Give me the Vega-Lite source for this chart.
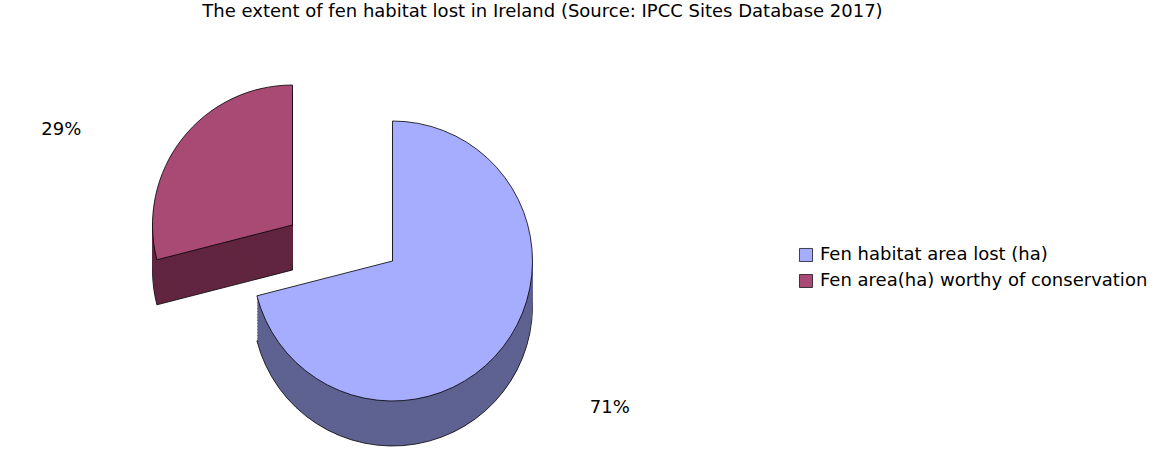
{
  "$schema": "https://vega.github.io/schema/vega-lite/v6.json",
  "autosize": {"type": "fit", "contains": "padding"},
  "width": 1155,
  "height": 457,
  "padding": {"top": 3, "left": 0, "right": 0, "bottom": 0},
  "background": "white",
  "config": {"view": {"stroke": null}, "font": "DejaVu Sans"},
  "title": {
    "text": "The extent of fen habitat lost in Ireland (Source: IPCC Sites Database 2017)",
    "font": "DejaVu Sans",
    "fontSize": 18,
    "fontWeight": "normal",
    "color": "black",
    "anchor": "middle",
    "dx": -35,
    "offset": 8
  },
  "data": {
    "values": [
      {"cat": "Fen habitat area lost (ha)", "share": 0.71, "rank": 1},
      {"cat": "Fen area(ha) worthy of conservation", "share": 0.29, "rank": 2}
    ]
  },
  "encoding": {
    "theta": {"field": "share", "type": "quantitative", "stack": true},
    "order": {"field": "rank", "type": "quantitative"}
  },
  "layer": [
    {"mark": {"type": "arc", "radius": 140, "xOffset": -285, "yOffset": 27, "fill": "#612540", "stroke": "black", "strokeWidth": 0.8}, "encoding": {"opacity": {"condition": {"test": "datum.rank == 2", "value": 1}, "value": 0}}},
    {"mark": {"type": "arc", "radius": 140, "xOffset": -285, "yOffset": 24, "fill": "#612540"}, "encoding": {"opacity": {"condition": {"test": "datum.rank == 2", "value": 1}, "value": 0}}},
    {"mark": {"type": "arc", "radius": 140, "xOffset": -285, "yOffset": 21, "fill": "#612540"}, "encoding": {"opacity": {"condition": {"test": "datum.rank == 2", "value": 1}, "value": 0}}},
    {"mark": {"type": "arc", "radius": 140, "xOffset": -285, "yOffset": 18, "fill": "#612540"}, "encoding": {"opacity": {"condition": {"test": "datum.rank == 2", "value": 1}, "value": 0}}},
    {"mark": {"type": "arc", "radius": 140, "xOffset": -285, "yOffset": 15, "fill": "#612540"}, "encoding": {"opacity": {"condition": {"test": "datum.rank == 2", "value": 1}, "value": 0}}},
    {"mark": {"type": "arc", "radius": 140, "xOffset": -285, "yOffset": 12, "fill": "#612540"}, "encoding": {"opacity": {"condition": {"test": "datum.rank == 2", "value": 1}, "value": 0}}},
    {"mark": {"type": "arc", "radius": 140, "xOffset": -285, "yOffset": 9, "fill": "#612540"}, "encoding": {"opacity": {"condition": {"test": "datum.rank == 2", "value": 1}, "value": 0}}},
    {"mark": {"type": "arc", "radius": 140, "xOffset": -285, "yOffset": 6, "fill": "#612540"}, "encoding": {"opacity": {"condition": {"test": "datum.rank == 2", "value": 1}, "value": 0}}},
    {"mark": {"type": "arc", "radius": 140, "xOffset": -285, "yOffset": 3, "fill": "#612540"}, "encoding": {"opacity": {"condition": {"test": "datum.rank == 2", "value": 1}, "value": 0}}},
    {"mark": {"type": "arc", "radius": 140, "xOffset": -285, "yOffset": 0, "fill": "#612540"}, "encoding": {"opacity": {"condition": {"test": "datum.rank == 2", "value": 1}, "value": 0}}},
    {"mark": {"type": "arc", "radius": 140, "xOffset": -285, "yOffset": -3, "fill": "#612540"}, "encoding": {"opacity": {"condition": {"test": "datum.rank == 2", "value": 1}, "value": 0}}},
    {"mark": {"type": "arc", "radius": 140, "xOffset": -285, "yOffset": -6, "fill": "#612540"}, "encoding": {"opacity": {"condition": {"test": "datum.rank == 2", "value": 1}, "value": 0}}},
    {"mark": {"type": "arc", "radius": 140, "xOffset": -285, "yOffset": -9, "fill": "#612540"}, "encoding": {"opacity": {"condition": {"test": "datum.rank == 2", "value": 1}, "value": 0}}},
    {"mark": {"type": "arc", "radius": 140, "xOffset": -285, "yOffset": -12, "fill": "#612540"}, "encoding": {"opacity": {"condition": {"test": "datum.rank == 2", "value": 1}, "value": 0}}},
    {"mark": {"type": "arc", "radius": 140, "xOffset": -285, "yOffset": -15, "fill": "#612540"}, "encoding": {"opacity": {"condition": {"test": "datum.rank == 2", "value": 1}, "value": 0}}},
    {"mark": {"type": "arc", "radius": 140, "xOffset": -285, "yOffset": -18, "stroke": "black", "strokeWidth": 0.8},
     "encoding": {
       "color": {"field": "cat", "type": "nominal",
         "scale": {"domain": ["Fen habitat area lost (ha)", "Fen area(ha) worthy of conservation"], "range": ["#A7ADFE", "#A94A75"]},
         "legend": {"title": null, "orient": "none", "legendX": 797, "legendY": 217, "symbolType": "square", "symbolSize": 170, "symbolStrokeColor": "black", "symbolStrokeWidth": 0.7, "symbolOpacity": 1, "labelFont": "DejaVu Sans", "labelFontSize": 18, "labelColor": "black", "labelLimit": 400, "rowPadding": 8, "labelOffset": 5}},
       "opacity": {"condition": {"test": "datum.rank == 2", "value": 1}, "value": 0}}},
    {"mark": {"type": "arc", "radius": 140, "xOffset": -185, "yOffset": 63, "fill": "#5E6291", "stroke": "black", "strokeWidth": 0.8}, "encoding": {"opacity": {"condition": {"test": "datum.rank == 1", "value": 1}, "value": 0}}},
    {"mark": {"type": "arc", "radius": 140, "xOffset": -185, "yOffset": 60, "fill": "#5E6291"}, "encoding": {"opacity": {"condition": {"test": "datum.rank == 1", "value": 1}, "value": 0}}},
    {"mark": {"type": "arc", "radius": 140, "xOffset": -185, "yOffset": 57, "fill": "#5E6291"}, "encoding": {"opacity": {"condition": {"test": "datum.rank == 1", "value": 1}, "value": 0}}},
    {"mark": {"type": "arc", "radius": 140, "xOffset": -185, "yOffset": 54, "fill": "#5E6291"}, "encoding": {"opacity": {"condition": {"test": "datum.rank == 1", "value": 1}, "value": 0}}},
    {"mark": {"type": "arc", "radius": 140, "xOffset": -185, "yOffset": 51, "fill": "#5E6291"}, "encoding": {"opacity": {"condition": {"test": "datum.rank == 1", "value": 1}, "value": 0}}},
    {"mark": {"type": "arc", "radius": 140, "xOffset": -185, "yOffset": 48, "fill": "#5E6291"}, "encoding": {"opacity": {"condition": {"test": "datum.rank == 1", "value": 1}, "value": 0}}},
    {"mark": {"type": "arc", "radius": 140, "xOffset": -185, "yOffset": 45, "fill": "#5E6291"}, "encoding": {"opacity": {"condition": {"test": "datum.rank == 1", "value": 1}, "value": 0}}},
    {"mark": {"type": "arc", "radius": 140, "xOffset": -185, "yOffset": 42, "fill": "#5E6291"}, "encoding": {"opacity": {"condition": {"test": "datum.rank == 1", "value": 1}, "value": 0}}},
    {"mark": {"type": "arc", "radius": 140, "xOffset": -185, "yOffset": 39, "fill": "#5E6291"}, "encoding": {"opacity": {"condition": {"test": "datum.rank == 1", "value": 1}, "value": 0}}},
    {"mark": {"type": "arc", "radius": 140, "xOffset": -185, "yOffset": 36, "fill": "#5E6291"}, "encoding": {"opacity": {"condition": {"test": "datum.rank == 1", "value": 1}, "value": 0}}},
    {"mark": {"type": "arc", "radius": 140, "xOffset": -185, "yOffset": 33, "fill": "#5E6291"}, "encoding": {"opacity": {"condition": {"test": "datum.rank == 1", "value": 1}, "value": 0}}},
    {"mark": {"type": "arc", "radius": 140, "xOffset": -185, "yOffset": 30, "fill": "#5E6291"}, "encoding": {"opacity": {"condition": {"test": "datum.rank == 1", "value": 1}, "value": 0}}},
    {"mark": {"type": "arc", "radius": 140, "xOffset": -185, "yOffset": 27, "fill": "#5E6291"}, "encoding": {"opacity": {"condition": {"test": "datum.rank == 1", "value": 1}, "value": 0}}},
    {"mark": {"type": "arc", "radius": 140, "xOffset": -185, "yOffset": 24, "fill": "#5E6291"}, "encoding": {"opacity": {"condition": {"test": "datum.rank == 1", "value": 1}, "value": 0}}},
    {"mark": {"type": "arc", "radius": 140, "xOffset": -185, "yOffset": 21, "fill": "#5E6291"}, "encoding": {"opacity": {"condition": {"test": "datum.rank == 1", "value": 1}, "value": 0}}},
    {"mark": {"type": "arc", "radius": 140, "xOffset": -185, "yOffset": 18, "stroke": "black", "strokeWidth": 0.8},
     "encoding": {
       "color": {"field": "cat", "type": "nominal"},
       "opacity": {"condition": {"test": "datum.rank == 1", "value": 1}, "value": 0}}},
    {"mark": {"type": "text", "radius": 180, "xOffset": -110, "yOffset": 55, "font": "DejaVu Sans", "fontSize": 18, "color": "black"},
     "encoding": {"text": {"field": "share", "type": "quantitative", "format": ".0%"},
       "opacity": {"condition": {"test": "datum.rank == 1", "value": 1}, "value": 0}}},
    {"mark": {"type": "text", "radius": 185, "xOffset": -370, "yOffset": 0, "font": "DejaVu Sans", "fontSize": 18, "color": "black"},
     "encoding": {"text": {"field": "share", "type": "quantitative", "format": ".0%"},
       "opacity": {"condition": {"test": "datum.rank == 2", "value": 1}, "value": 0}}}
  ]
}
